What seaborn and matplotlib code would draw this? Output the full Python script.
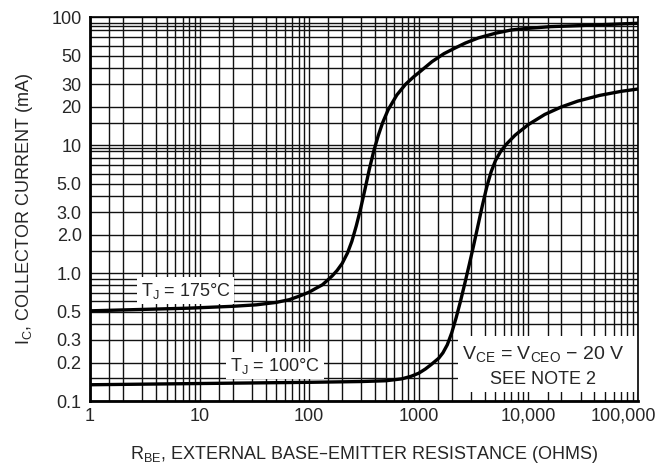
import numpy as np
import pandas as pd
import seaborn as sns
import matplotlib.pyplot as plt
from matplotlib.patches import Rectangle
from matplotlib.transforms import ScaledTranslation

# curves: R_BE (ohms) vs I_C (mA)
r_175 = [1, 3, 8, 20, 33, 50, 66, 81, 100, 115, 132, 147, 162, 180, 200, 224, 245, 269, 295,
         324, 355, 389, 427, 468, 525, 631, 759, 900, 1050, 1320, 1700, 2100, 2660, 3500,
         5000, 7000, 10000, 16000, 28400, 55000, 100000]
ic_175 = [0.507, 0.52, 0.532, 0.55, 0.565, 0.59, 0.62, 0.66, 0.71, 0.76, 0.81, 0.88, 0.95, 1.05,
          1.19, 1.44, 1.77, 2.34, 3.2, 4.58, 6.56, 9.06, 11.9, 15.0, 18.9, 24.7, 30.0, 34.3,
          38.2, 45, 52, 57, 62.9, 69, 75, 79.6, 82, 84.5, 86, 88, 89.8]

r_100 = [1, 10, 100, 300, 500, 700, 850, 1000, 1150, 1300, 1520, 1660, 1820, 1995, 2188, 2399,
         2630, 2884, 3162, 3467, 3802, 4169, 4571, 5012, 5623, 6310, 7586, 10000, 14125, 19953,
         28184, 44668, 70795, 100000]
ic_100 = [0.134, 0.137, 0.14, 0.142, 0.144, 0.149, 0.156, 0.165, 0.178, 0.193, 0.216, 0.238,
          0.275, 0.34, 0.445, 0.60, 0.83, 1.16, 1.64, 2.35, 3.37, 4.70, 6.19, 7.59, 9.02, 10.2,
          12.0, 14.5, 17.4, 19.9, 22.1, 24.5, 26.4, 27.5]

x_ticks = [1, 10, 100, 1000, 10000, 100000]
x_labels = ['1', '10', '100', '1000', '10,000', '100,000']
y_ticks = [0.1, 0.2, 0.3, 0.5, 1, 2, 3, 5, 10, 20, 30, 50, 100]
y_labels = ['0.1', '0.2', '0.3', '0.5', '1.0', '2.0', '3.0', '5.0', '10', '20', '30', '50', '100']

x_grid = [m * 10 ** k for k in range(5) for m in [1.5, 2, 3, 4, 5, 6, 7, 8, 9]]
y_grid = ([0.15, 0.2, 0.3, 0.4, 0.5, 0.6, 0.7, 0.8, 0.9] +
          [1.5, 2, 3, 4, 5, 6, 7, 8, 9, 9.5] +
          [15, 20, 30, 40, 50, 60, 70, 80, 85, 90])

sns.set_style('white')
plt.rcParams['font.family'] = ['Liberation Sans Narrow', 'Liberation Sans', 'DejaVu Sans']
FS = 13

fig = plt.figure(figsize=(6.7, 4.71), dpi=100)
ax = fig.add_axes([0.1343, 0.1486, 0.8179, 0.8147])

df175 = pd.DataFrame({'R': r_175, 'Ic': ic_175})
df100 = pd.DataFrame({'R': r_100, 'Ic': ic_100})
sns.lineplot(data=df175, x='R', y='Ic', ax=ax, color='black', lw=2.4, zorder=4)
sns.lineplot(data=df100, x='R', y='Ic', ax=ax, color='black', lw=2.4, zorder=4)

ax.set_xscale('log')
ax.set_yscale('log')
ax.set_xlim(1, 100000)
ax.set_ylim(0.1, 100)

ax.set_xticks(x_ticks)
ax.set_xticklabels(x_labels, fontsize=FS)
ax.set_xticks(x_grid, minor=True)
ax.set_yticks(y_ticks)
ax.set_yticklabels(y_labels, fontsize=FS)
ax.set_yticks(y_grid, minor=True)
ax.tick_params(which='both', length=0)
ax.tick_params(axis='x', pad=5)
ax.tick_params(axis='y', pad=6)
ax.set_xticklabels([], minor=True)
ax.set_yticklabels([], minor=True)

ax.set_axisbelow(True)
ax.grid(which='both', color='#111111', lw=1.0)

for side in ['left', 'bottom']:
    ax.spines[side].set_linewidth(2.0)
for side in ['top', 'right']:
    ax.spines[side].set_linewidth(1.2)
for s in ax.spines.values():
    s.set_color('black')

# push the last tick label inward like the original
last = ax.xaxis.get_major_ticks()[-1].label1
last.set_transform(last.get_transform() + ScaledTranslation(-0.15, 0, fig.dpi_scale_trans))

ax.set_xlabel(r'R$_\mathregular{BE}$, EXTERNAL BASE–EMITTER RESISTANCE (OHMS)', fontsize=FS, labelpad=14)
ax.set_ylabel(r'I$_\mathregular{C}$, COLLECTOR CURRENT (mA)', fontsize=FS, labelpad=12)

box = dict(boxstyle='square,pad=0.2', fc='white', ec='none')
ax.text(7.5, 0.73, r'T$_\mathregular{J}$ = 175°C', fontsize=FS, ha='center', va='center',
        bbox=box, zorder=3)
ax.text(48.7, 0.189, r'T$_\mathregular{J}$ = 100°C', fontsize=FS, ha='center', va='center',
        bbox=box, zorder=3)

ax.add_patch(Rectangle((2280, 0.118), 100000 - 2280, 0.32 - 0.118, fc='white', ec='none', zorder=2.2))
ax.text(13600, 0.231, r'V$_\mathregular{CE}$ = V$_\mathregular{CEO}$ − 20 V', fontsize=FS + 1,
        ha='center', va='center', zorder=3)
ax.text(13600, 0.147, 'SEE NOTE 2', fontsize=FS, ha='center', va='center', zorder=3)

fig.savefig('out.png', dpi=100)
